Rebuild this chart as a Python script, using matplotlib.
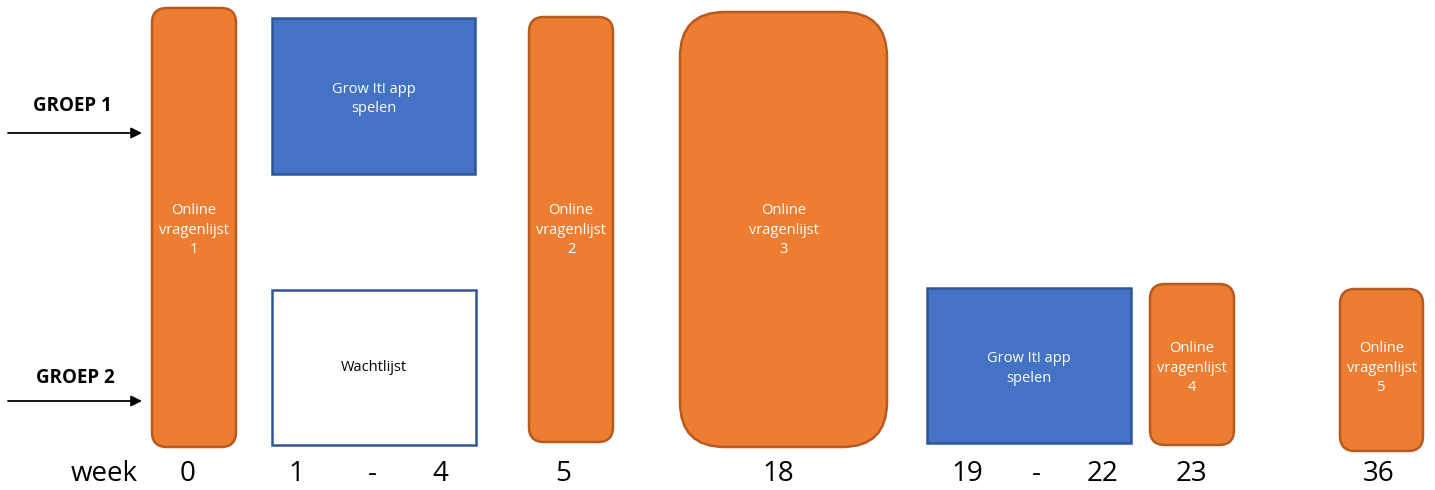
import matplotlib
matplotlib.use("Agg")
import matplotlib.pyplot as plt
from matplotlib.patches import FancyBboxPatch, Rectangle

plt.rcParams['font.family'] = ['Open Sans', 'DejaVu Sans']

# week labels along the bottom
week_labels = ["0", "1", "-", "4", "5", "18", "19", "-", "22", "23", "36"]
week_label_x = [188, 296, 372, 440, 563, 778, 967, 1036, 1103, 1191, 1379]

# questionnaire blocks (orange, rounded)
quest_labels = ["Online\nvragenlijst\n1", "Online\nvragenlijst\n2", "Online\nvragenlijst\n3",
                "Online\nvragenlijst\n4", "Online\nvragenlijst\n5"]
quest_boxes = [(152, 8, 84, 439, 15), (529, 17, 84, 425, 15), (680, 12, 207, 435, 45),
               (1150, 284, 84, 161, 15), (1340, 289, 83, 162, 15)]
quest_text_y = [230, 230, 230, 368, 368]

# activity blocks (square)
act_labels = ["Grow It! app\nspelen", "Wachtlijst", "Grow It! app\nspelen"]
act_boxes = [(272, 18, 203, 156), (272, 290, 204, 155), (927, 288, 204, 155)]
act_filled = [True, False, True]

groups = ["GROEP 1", "GROEP 2"]
group_x = [72, 75]
group_y = [106, 378]
arrow_y = [133, 401]

ORANGE = "#ED7D31"
ORANGE_EDGE = "#B85A20"
BLUE = "#4472C4"
BLUE_EDGE = "#2F5597"

fig = plt.figure(figsize=(14.35, 4.9), dpi=100)
ax = fig.add_axes([0, 0, 1, 1])
ax.set_xlim(0, 1435)
ax.set_ylim(490, 0)
ax.axis("off")

for (x, y, w, h, r), lab, ty in zip(quest_boxes, quest_labels, quest_text_y):
    ax.add_patch(FancyBboxPatch((x + r, y + r), w - 2 * r, h - 2 * r,
                                boxstyle=f"round,pad={r}", fc=ORANGE, ec=ORANGE_EDGE, lw=1.8))
    ax.text(x + w / 2, ty, lab, ha="center", va="center", color="white",
            fontsize=10.5, linespacing=1.45)

for (x, y, w, h), lab, filled in zip(act_boxes, act_labels, act_filled):
    ax.add_patch(Rectangle((x, y), w, h, fc=BLUE if filled else "white", ec=BLUE_EDGE, lw=1.8))
    ax.text(x + w / 2, y + h / 2 + 3 if filled else y + h / 2, lab, ha="center", va="center",
            color="white" if filled else "black", fontsize=10.5, linespacing=1.45)

for g, gx, gy, ay in zip(groups, group_x, group_y, arrow_y):
    ax.text(gx, gy, g, ha="center", va="center", fontsize=13.5, fontweight="bold")
    ax.annotate("", xy=(142, ay), xytext=(8, ay),
                arrowprops=dict(arrowstyle="-|>", color="black", lw=1.3,
                                mutation_scale=16, shrinkA=0, shrinkB=0))

ax.text(104, 474, "week", ha="center", va="center", fontsize=20)
for lab, x in zip(week_labels, week_label_x):
    ax.text(x, 474, lab, ha="center", va="center", fontsize=20)

fig.savefig("out.png", dpi=100)
